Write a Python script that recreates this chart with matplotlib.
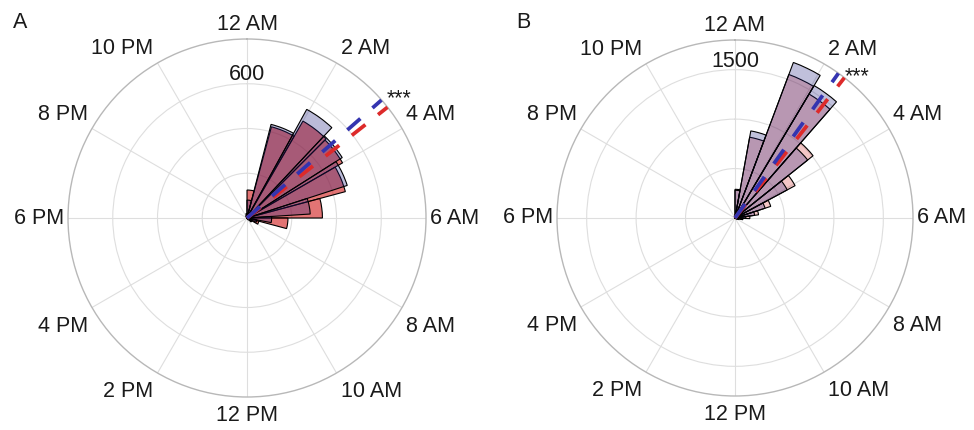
import numpy as np
import matplotlib
matplotlib.use("Agg")
import matplotlib.pyplot as plt

plt.rcParams['font.family'] = ['Liberation Sans', 'DejaVu Sans']

# ---------------- data ----------------
label_hours = [0, 2, 4, 6, 8, 10, 12, 14, 16, 18, 20, 22]
hour_labels = ['12 AM', '2 AM', '4 AM', '6 AM', '8 AM', '10 AM',
               '12 PM', '2 PM', '4 PM', '6 PM', '8 PM', '10 PM']

# Panel A: counts per bin, bins run clockwise from 12 AM
A_red = [125, 422, 500, 493, 455, 337, 183, 55, 25, 10, 5, 0,
         0, 0, 0, 0, 0, 0, 0, 0, 0, 5, 10, 15]
A_blue = [80, 432, 554, 504, 471, 283, 110, 45, 20, 8, 0, 0, 0,
          0, 0, 0, 0, 0, 0, 0, 0, 0, 5, 10, 20]
A_mean_hours = {'red': 3.45, 'blue': 3.25}
A_rmax = 800
A_rings = [200, 400, 600]
A_rlabel = 600

# Panel B
B_red = [290, 830, 1550, 1460, 1010, 690, 380, 240, 150, 80, 40, 20,
         10, 5, 0, 0, 0, 0, 0, 0, 0, 0, 0, 0, 0, 0, 0, 0, 0, 0, 0, 0, 5, 10, 30]
B_blue = [280, 895, 1680, 1560, 940, 600, 320, 200, 110, 60, 30, 15,
          8, 4, 0, 0, 0, 0, 0, 0, 0, 0, 0, 0, 0, 0, 0, 0, 0, 0, 0, 0, 5, 10, 25]
B_mean_hours = {'red': 2.53, 'blue': 2.37}
B_rmax = 1800
B_rings = [500, 1000, 1500]
B_rlabel = 1500

RED = (0.82, 0.12, 0.12)
BLUE = (0.12, 0.12, 0.50)
LINE_RED = '#dd2a2a'
LINE_BLUE = '#3434b0'
FS = 15.5
TXT = '#1a1a1a'


def draw(ax, red, blue, red_alpha, blue_alpha, means, rmax, rings, rlabel,
         rlabel_dy, stars_off):
    ax.set_theta_zero_location('N')
    ax.set_theta_direction(-1)
    ax.set_axisbelow(True)
    for counts, col, al, z in [(red, RED, red_alpha, 2), (blue, BLUE, blue_alpha, 3)]:
        counts = np.asarray(counts, float)
        n = len(counts)
        w = 2 * np.pi / n
        centers = (np.arange(n) + 0.5) * w
        ax.bar(centers, counts, width=w, bottom=0,
               facecolor=(*col, al), edgecolor='black', linewidth=0.8, zorder=z)
    # mean direction lines
    for key, col in [('red', LINE_RED), ('blue', LINE_BLUE)]:
        th = means[key] / 24 * 2 * np.pi
        ax.plot([th, th], [0, rmax], color=col, lw=2.7, dashes=(4.6, 4.3),
                dash_capstyle='butt', zorder=5)
    ax.set_ylim(0, rmax)
    ax.set_yticks(rings)
    ax.set_yticklabels([])
    ax.set_xticks(np.deg2rad(np.arange(0, 360, 30)))
    ax.set_xticklabels([])
    ax.tick_params(length=0)
    ax.grid(color='#dedede', lw=0.8)
    ax.spines['polar'].set_color('#b8b8b8')
    ax.spines['polar'].set_linewidth(1.0)
    # theta labels
    for h, lab in zip(label_hours, hour_labels):
        th = h / 24 * 2 * np.pi
        s, c = np.sin(th), np.cos(th)
        if s > 0.05:
            ha, dx = 'left', 4
        elif s < -0.05:
            ha, dx = 'right', -4
        else:
            ha, dx = 'center', 0
        if c > 0.05:
            va, dy = 'bottom', 4
        elif c < -0.05:
            va, dy = 'top', -8
        else:
            va, dy = 'center', 0
        ax.annotate(lab, xy=(th, rmax), xycoords='data', xytext=(dx, dy),
                    textcoords='offset pixels', ha=ha, va=va, fontsize=FS,
                    color=TXT, annotation_clip=False)
    ax.annotate(str(rlabel), xy=(0, rlabel), xytext=(0, rlabel_dy),
                textcoords='offset pixels', ha='center', va='baseline',
                fontsize=FS, color=TXT, annotation_clip=False)
    ax.annotate('***', xy=(0, 0), xytext=stars_off, textcoords='offset pixels',
                ha='center', va='baseline', fontsize=FS, color=TXT,
                annotation_clip=False)


fig = plt.figure(figsize=(9.74, 4.30), dpi=100)
axA = fig.add_axes([0.06982, 0.07674, 0.36756, 0.83256], projection='polar')
axB = fig.add_axes([0.57187, 0.07907, 0.36550, 0.82791], projection='polar')

draw(axA, A_red, A_blue, 0.62, 0.30, A_mean_hours, A_rmax, A_rings, A_rlabel,
     4, (152, 114))
draw(axB, B_red, B_blue, 0.25, 0.28, B_mean_hours, B_rmax, B_rings, B_rlabel,
     3, (122, 136))

fig.text(20.5 / 974, 1 - 22.5 / 430, 'A', fontsize=FS, ha='center', va='center', color=TXT)
fig.text(523.5 / 974, 1 - 22.5 / 430, 'B', fontsize=FS, ha='center', va='center', color=TXT)

fig.savefig('out.png', dpi=100)
